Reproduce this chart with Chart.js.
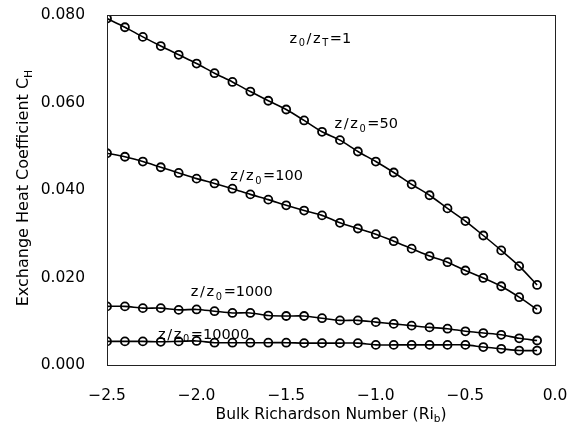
<!DOCTYPE html>
<html>
<head>
<meta charset="utf-8">
<script src="https://cdn.jsdelivr.net/npm/chart.js@4/dist/chart.umd.min.js"></script>
<style>
html,body{margin:0;padding:0;background:#fff;}
#wrap{width:573px;height:425px;}
</style>
</head>
<body>
<div id="wrap"><canvas id="c" width="573" height="425"></canvas></div>
<script>
// Bulk Richardson number (x categories)
const richardson = [-2.5,-2.4,-2.3,-2.2,-2.1,-2.0,-1.9,-1.8,-1.7,-1.6,-1.5,-1.4,-1.3,-1.2,-1.1,-1.0,-0.9,-0.8,-0.7,-0.6,-0.5,-0.4,-0.3,-0.2,-0.1];
// Exchange heat coefficient C_H for each z/z0
const ch_z50 = [0.0792,0.0772,0.0750,0.0729,0.0709,0.0689,0.0667,0.0647,0.0625,0.0604,0.0584,0.0559,0.0533,0.0514,0.0488,0.0465,0.0440,0.0413,0.0388,0.0358,0.0329,0.0296,0.0262,0.0226,0.0183];
const ch_z100 = [0.0484,0.0476,0.0465,0.0452,0.0439,0.0426,0.0415,0.0403,0.0390,0.0378,0.0365,0.0353,0.0342,0.0325,0.0312,0.0299,0.0283,0.0266,0.0249,0.0235,0.0216,0.0199,0.0180,0.0155,0.0127];
const ch_z1000 = [0.0134,0.0134,0.0130,0.0130,0.0126,0.0127,0.0123,0.0119,0.0119,0.0113,0.0112,0.0112,0.0107,0.0102,0.0102,0.0098,0.0094,0.0090,0.0086,0.0083,0.0077,0.0073,0.0069,0.0061,0.0056];
const ch_z10000 = [0.0054,0.0054,0.0054,0.0053,0.0054,0.0055,0.0051,0.0051,0.0051,0.0051,0.0051,0.0050,0.0050,0.0050,0.0050,0.0046,0.0046,0.0046,0.0046,0.0046,0.0046,0.0041,0.0037,0.0033,0.0033];
const seriesNames = ['z/z0=50','z/z0=100','z/z0=1000','z/z0=10000'];
// axis ticks
const xTicks = [-2.5,-2.0,-1.5,-1.0,-0.5,0.0];
const yTicks = [0.000,0.020,0.040,0.060,0.080];

const FONT = '"DejaVu Sans", sans-serif';

function mk(vals, name){
  return {
    label: name,
    data: richardson.map((x,i)=>({x:x, y:vals[i]})),
    borderColor:'#000', borderWidth:1.6,
    backgroundColor:'rgba(0,0,0,0)',
    pointBorderColor:'#000', pointBackgroundColor:'rgba(0,0,0,0)',
    pointRadius:4, pointBorderWidth:1.8, pointStyle:'circle',
    tension:0.3, fill:false
  };
}

function drawRich(ctx, x, y, parts, size, gap){
  let cx = x;
  ctx.textAlign='left'; ctx.textBaseline='alphabetic'; ctx.fillStyle='#000';
  parts.forEach(p=>{
    const sub = p[1];
    const fs = sub ? size*0.68 : size;
    ctx.font = fs + 'px ' + FONT;
    const yy = sub ? y + size*0.22 : y;
    ctx.fillText(p[0], cx, yy);
    cx += ctx.measureText(p[0]).width + gap;
  });
  return cx - x;
}

function noPad(s){ s.paddingTop=0; s.paddingBottom=0; s.paddingLeft=0; s.paddingRight=0; }

const overlay = {
  id:'overlay',
  afterDraw(chart, args, opts){
    const ctx = chart.ctx, a = chart.chartArea;
    const xs = chart.scales.x, ys = chart.scales.y;
    ctx.save();
    // frame
    ctx.strokeStyle='#222'; ctx.lineWidth=1;
    ctx.strokeRect(Math.round(a.left)+0.5, Math.round(a.top)+0.5, Math.round(a.right-a.left), Math.round(a.bottom-a.top));
    // annotations
    opts.labels.forEach(l=>{
      drawRich(ctx, xs.getPixelForValue(l.x), ys.getPixelForValue(l.y), l.parts, 14.5, 1.6);
    });
    // x title
    const xp = [['Bulk Richardson Number (Ri',false],['b',true],[')',false]];
    let w = 0;
    xp.forEach(p=>{ctx.font=(p[1]?15.5*0.68:15.5)+'px '+FONT; w+=ctx.measureText(p[0]).width;});
    drawRich(ctx, (a.left+a.right)/2 - w/2, 419, xp, 15.5, 0);
    // y title
    const yp = [['Exchange Heat Coefficient C',false],['H',true]];
    let wy=0;
    yp.forEach(p=>{ctx.font=(p[1]?16*0.68:16)+'px '+FONT; wy+=ctx.measureText(p[0]).width;});
    ctx.translate(28, 188);
    ctx.rotate(-Math.PI/2);
    drawRich(ctx, -wy/2, 0, yp, 16, 0);
    ctx.restore();
  }
};

new Chart(document.getElementById('c'), {
  type:'line',
  data:{ datasets:[mk(ch_z50,seriesNames[0]), mk(ch_z100,seriesNames[1]), mk(ch_z1000,seriesNames[2]), mk(ch_z10000,seriesNames[3])] },
  options:{
    responsive:false, animation:false, devicePixelRatio:1,
    layout:{padding:{top:15,right:18,left:0,bottom:0}},
    plugins:{
      legend:{display:false}, tooltip:{enabled:false},
      overlay:{
        labels:[
          {x:-1.482, y:0.0737, parts:[['z',false],['0',true],['/',false],['z',false],['T',true],['=1',false]]},
          {x:-1.230, y:0.0541, parts:[['z',false],['/',false],['z',false],['0',true],['=50',false]]},
          {x:-1.812, y:0.0422, parts:[['z',false],['/',false],['z',false],['0',true],['=100',false]]},
          {x:-2.032, y:0.0157, parts:[['z',false],['/',false],['z',false],['0',true],['=1000',false]]},
          {x:-2.215, y:0.0060, parts:[['z',false],['/',false],['z',false],['0',true],['=10000',false]]}
        ]
      }
    },
    scales:{
      x:{
        type:'linear', min:-2.5, max:0,
        afterFit(s){ s.height = 60; noPad(s); },
        afterBuildTicks(s){ s.ticks = xTicks.map(v=>({value:v})); },
        grid:{display:false, drawTicks:false},
        border:{display:false},
        ticks:{padding:22, color:'#000', font:{family:FONT, size:15.5},
          callback:(v)=> (v<0?'\u2212':'') + Math.abs(v).toFixed(1)}
      },
      y:{
        min:0, max:0.08,
        afterFit(s){ s.width = 107; noPad(s); },
        afterBuildTicks(s){ s.ticks = yTicks.map(v=>({value:v})); },
        grid:{display:false, drawTicks:false},
        border:{display:false},
        ticks:{padding:22, color:'#000', font:{family:FONT, size:15.5},
          callback:(v)=> Number(v).toFixed(3)}
      }
    }
  },
  plugins:[overlay]
});
</script>
</body>
</html>
